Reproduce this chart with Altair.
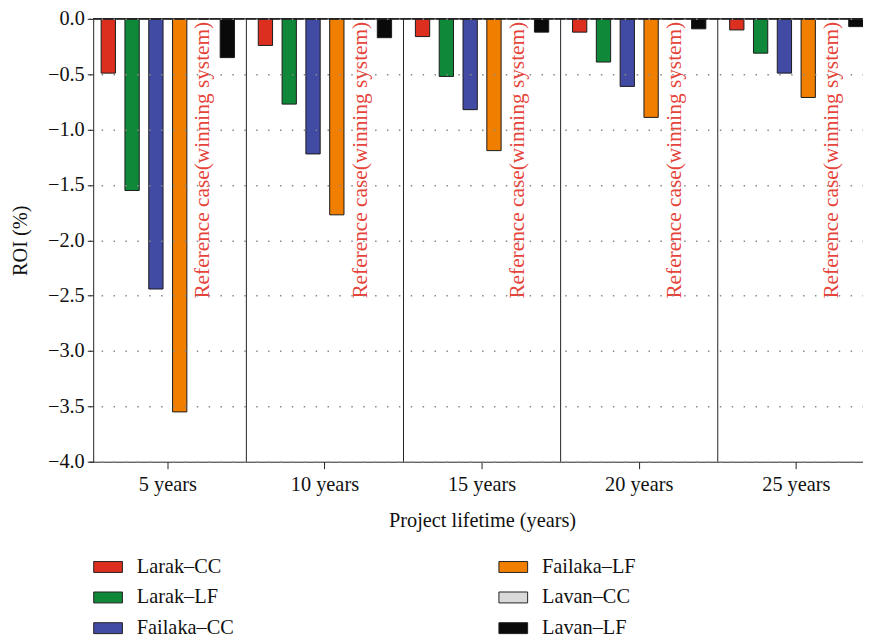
import altair as alt
import pandas as pd

years = ["5 years", "10 years", "15 years", "20 years", "25 years"]
series = ["Larak–CC", "Larak–LF", "Failaka–CC", "Failaka–LF", "Lavan–CC", "Lavan–LF"]
larak_cc = [-0.49, -0.24, -0.16, -0.12, -0.10]
larak_lf = [-1.55, -0.77, -0.52, -0.39, -0.31]
failaka_cc = [-2.44, -1.22, -0.82, -0.61, -0.49]
failaka_lf = [-3.55, -1.77, -1.19, -0.89, -0.71]
lavan_cc = [0.0, 0.0, 0.0, 0.0, 0.0]
lavan_lf = [-0.35, -0.17, -0.12, -0.09, -0.07]
colors = ["#dc2f1f", "#0f883a", "#424ba4", "#f07f00", "#d9d9d9", "#0a0a0a"]
y_ticks = [-4.0, -3.5, -3.0, -2.5, -2.0, -1.5, -1.0, -0.5, 0.0]
annotation = "Reference case(winning system)"
winner = "Lavan–CC"

values = [larak_cc, larak_lf, failaka_cc, failaka_lf, lavan_cc, lavan_lf]
rows = []
for s, vals in zip(series, values):
    for y, v in zip(years, vals):
        rows.append({"year": y, "series": s, "roi": v})
df = pd.DataFrame(rows)
ann = pd.DataFrame({"year": years, "series": [winner] * len(years), "label": [annotation] * len(years)})
sep = pd.DataFrame({"year": years[1:]})

FONT = "Liberation Serif"
FS = 20.5

xscale = alt.Scale(domain=years, range=[-4, 789], paddingInner=0, paddingOuter=0)
xoff = alt.XOffset("series:N", scale=alt.Scale(domain=series, paddingInner=0.4, paddingOuter=0.5))
yscale = alt.Scale(domain=[-4, 0], nice=False)

bars = alt.Chart(df).mark_bar(stroke="#1a1a1a", strokeWidth=1).encode(
    x=alt.X("year:N", scale=xscale, sort=years,
            axis=alt.Axis(title="Project lifetime (years)", labelAngle=0, tickSize=7,
                          labelPadding=6, titlePadding=16, domainColor="#222",
                          tickColor="#222", grid=False)),
    xOffset=xoff,
    y=alt.Y("roi:Q", scale=yscale,
            axis=alt.Axis(title="ROI (%)", values=y_ticks, format=".1f", tickSize=6,
                          labelPadding=3, titlePadding=17, domainColor="#222",
                          tickColor="#222", grid=True, gridColor="#888",
                          gridDash=[1.5, 10.5], gridWidth=1.5, zindex=1)),
    fill=alt.Fill("series:N",
                  scale=alt.Scale(domain=series, range=colors),
                  legend=alt.Legend(title=None, orient="none", legendX=0, legendY=538,
                                    columns=2, columnPadding=265, rowPadding=5,
                                    symbolType="M-1,-0.38H1V0.38H-1Z", symbolSize=841,
                                    symbolStrokeColor="#222", symbolStrokeWidth=1,
                                    symbolOpacity=1, labelOffset=14, labelFontSize=FS,
                                    labelFont=FONT, labelColor="#111")),
)

text = alt.Chart(ann).mark_text(angle=270, align="right", baseline="middle",
                                 color="#e5443a", fontSize=21.5, font=FONT).encode(
    x=alt.X("year:N", scale=xscale, sort=years),
    xOffset=xoff,
    y=alt.value(3),
    text="label:N",
)

seps = alt.Chart(sep).mark_rule(color="#222", strokeWidth=1).encode(
    x=alt.X("year:N", scale=xscale, sort=years, bandPosition=0),
    y=alt.value(0),
    y2=alt.value(447),
)

top = alt.Chart(sep).mark_rule(color="#222", strokeWidth=1).encode(
    x=alt.value(0), x2=alt.value(777), y=alt.value(0),
)

chart = alt.layer(bars, text, seps, top).properties(
    width=777, height=447,
    autosize=alt.AutoSizeParams(type="none"),
    padding={"left": 86, "top": 8, "right": 0, "bottom": 179},
).configure_view(stroke=None).configure_axis(
    labelFont=FONT, titleFont=FONT, labelFontSize=FS, titleFontSize=FS,
    labelColor="#111", titleColor="#111", titleFontWeight="normal",
)

chart.save("out.html", embed_options={"renderer": "svg", "actions": False})
